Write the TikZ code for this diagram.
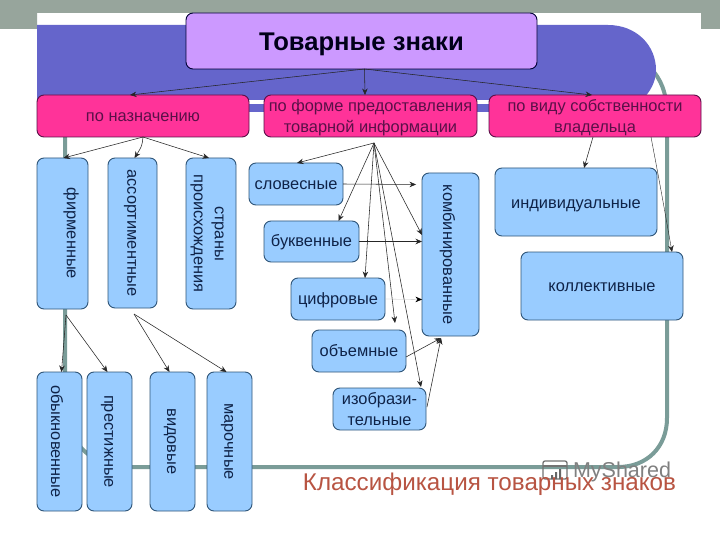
\documentclass[tikz,border=0pt]{standalone}
\usepackage{fontspec}
\usepackage{graphicx}
\setmainfont{Liberation Sans}
\usetikzlibrary{arrows.meta}
\definecolor{barc}{HTML}{97A59C}
\definecolor{bandc}{HTML}{6565CB}
\definecolor{framec}{HTML}{7A9C98}
\definecolor{titlec}{HTML}{CC99FF}
\definecolor{pinkc}{HTML}{FF3399}
\definecolor{pinkt}{HTML}{5A1048}
\definecolor{bluec}{HTML}{99CCFF}
\definecolor{bluet}{HTML}{0F2348}
\definecolor{edgec}{HTML}{2F5578}
\definecolor{capc}{HTML}{B85442}
\tikzset{
  boxbase/.style={draw,rounded corners=7pt,inner sep=0pt,outer sep=0pt,align=center,line width=0.9pt},
  titlebox/.style={boxbase,fill=titlec,draw=black!80!blue,text=black!90!blue,font=\fontsize{25.6}{30}\selectfont\bfseries},
  pinkbox/.style={boxbase,fill=pinkc,draw=pinkt,text=pinkt,font=\fontsize{16.4}{21}\selectfont},
  bluebox/.style={boxbase,fill=bluec,draw=edgec,text=bluet,font=\fontsize{16.4}{21}\selectfont},
  arr/.style={-{Stealth[length=6.5pt,width=5.5pt]},line width=0.55pt,black!85},
  thinarr/.style={-{Stealth[length=6.5pt,width=5.5pt,black]},line width=0.3pt,black!25},
}
\newcommand{\bx}[7]{%
  \pgfmathsetmacro{\bxw}{#5-#3}\pgfmathsetmacro{\bxh}{#6-#4}%
  \pgfmathsetmacro{\bxcx}{(#3+#5)/2}\pgfmathsetmacro{\bxcy}{(#4+#6)/2}%
  \node[#1,minimum width=\bxw pt,minimum height=\bxh pt] (#2) at (\bxcx,\bxcy) {#7};}
\newcommand{\vt}[2]{\hspace*{#1pt}\rotatebox{-90}{#2}}
\newcommand{\dn}[2]{\raisebox{0pt}[\dimexpr\height+#1pt*2\relax][\depth]{\begin{tabular}{@{}c@{}}#2\end{tabular}}}
\newcommand{\dnb}[1]{\raisebox{0pt}[\dimexpr\height+1pt\relax][\dimexpr\depth-3pt\relax]{\begin{tabular}{@{}c@{}}#1\end{tabular}}}
\begin{document}
\begin{tikzpicture}[x=1pt,y=-1pt]
\useasboundingbox (0,0) rectangle (720,540);
\fill[white] (0,0) rectangle (720,540);
% grey slide bar
\fill[barc] (0,0) -- (720,0) -- (720,29) -- (701,29) -- (701,13) -- (37,13) -- (37,29) -- (0,29) -- cycle;
% teal frame
\draw[framec,line width=4pt] (654,72) .. controls (664,85) and (667,98) .. (667,118) -- (667,418)
  .. controls (667,447) and (647,467) .. (618,467) -- (125,467)
  .. controls (92,467) and (65,440) .. (65,407) -- (65,130);
% blue band
\fill[bandc] (37,25) -- (608,25) .. controls (636,25) and (656,45) .. (656,70)
  .. controls (656,82) and (650,92) .. (642,100) -- (37,100) -- cycle;
\fill[bandc] (245,104) rectangle (268,112);
\fill[bandc] (473,104) rectangle (493,112);
% watermark
\draw[black!55,line width=1.3pt,rounded corners=2pt] (543,461) rectangle (567,479);
\draw[black!55,line width=1.3pt] (543,466) -- (567,466);
\fill[black!60] (551,475) rectangle (553,479) (555,472) rectangle (557,479) (559,469) rectangle (561,479);
\node[text=black!50,font=\fontsize{21.5}{26}\selectfont,inner sep=0pt] (wm) at (622,472) {MyShared};
% title and categories
\bx{titlebox}{t}{186}{13}{537}{69}{\dn{4}{Товарные знаки}}
\bx{pinkbox}{pa}{37}{95}{249}{137}{\dn{1}{по назначению}}
\bx{pinkbox}{pb}{264}{95}{477}{137}{\dnb{по форме предоставления\\товарной информации}}
\bx{pinkbox}{pc}{489}{95}{701}{137}{\dnb{по виду собственности\\владельца}}
% first column
\bx{bluebox}{fi}{37}{158}{88}{309}{\vt{17}{фирменные}}
\bx{bluebox}{as}{108}{158}{157}{308}{\vt{-5}{ассортиментные}}
\bx{bluebox}{st}{186}{158}{236}{309}{\vt{-5}{\begin{tabular}{@{}c@{}}страны\\происхождения\end{tabular}}}
% lower column
\bx{bluebox}{ob}{37}{372}{82}{511}{\vt{-5}{обыкновенные}}
\bx{bluebox}{pr}{87}{372}{132}{511}{\vt{-5}{престижные}}
\bx{bluebox}{vi}{150}{372}{195}{511}{\vt{-5}{видовые}}
\bx{bluebox}{ma}{207}{372}{252}{511}{\vt{-5}{марочные}}
% middle column
\bx{bluebox}{sl}{249}{163}{343}{205}{\dn{1}{словесные}}
\bx{bluebox}{bu}{264}{221}{359}{262}{\dn{1}{буквенные}}
\bx{bluebox}{ci}{291}{278}{385}{320}{\dn{1}{цифровые}}
\bx{bluebox}{oe}{312}{330}{406}{372}{\dn{1}{объемные}}
\bx{bluebox}{iz}{333}{388}{426}{430}{изобрази-\\тельные}
\bx{bluebox}{ko}{422}{173}{479}{336}{\vt{-6}{комбинированные}}
% right column
\bx{bluebox}{in}{495}{168}{657}{236}{\dn{2}{индивидуальные}}
\bx{bluebox}{kl}{521}{252}{683}{320}{\dn{1}{коллективные}}
% hubs
\coordinate (hb) at (374,143);
\coordinate (hf) at (66,315);
\coordinate (ha) at (134,314);
% connectors
\draw[arr] ([xshift=3pt]t.south) -- ([xshift=-13pt]pa.north);
\draw[arr] ([xshift=3pt]t.south) -- ([xshift=-5.5pt]pb.north);
\draw[arr] ([xshift=3pt]t.south) -- ([xshift=-3pt]pc.north);
\draw[arr] (pa.south) -- ([xshift=1pt]fi.north);
\draw[arr] (pa.south) .. controls (142,146) .. ([xshift=2pt]as.north);
\draw[arr] (pa.south) -- ([xshift=-2pt]st.north);
\draw[arr] (hb) -- ([xshift=1pt]sl.north);
\draw[arr] (hb) -- ([xshift=27pt]bu.north);
\draw[arr] (hb) -- ([xshift=27pt]ci.north);
\draw[arr] (hb) -- ([shift={(36pt,7pt)}]oe.north);
\draw[arr] (hb) -- ([xshift=-5pt,yshift=1pt]iz.north east);
\draw[arr] (hb) -- ([yshift=19.5pt]ko.west);
\draw[arr] (sl.east) -- ([xshift=-6pt,yshift=70pt]ko.west);
\draw[arr] (bu.east) -- ([yshift=13pt]ko.west);
\draw[thinarr] (ci.east) -- ([yshift=-45pt]ko.west);
\draw[arr] ([yshift=-6pt]oe.east) -- ([xshift=19pt,yshift=-2pt]ko.south west);
\draw[arr] ([xshift=1pt,yshift=2pt]iz.east) -- ([xshift=19pt,yshift=-2pt]ko.south west);
\draw[arr] ([xshift=-2pt]pc.south) -- ([xshift=8pt]in.north);
\draw[arr,line width=0.4pt] ([xshift=56pt]pc.south) .. controls (661,190) .. ([xshift=70pt]kl.north);
\draw[arr] (hf) -- ([xshift=2pt]ob.north);
\draw[arr] (hf) -- ([xshift=-2pt]pr.north);
\draw[arr] (ha) -- ([xshift=-3pt]vi.north);
\draw[arr] (ha) -- ([xshift=-3pt]ma.north);
% caption
\node[text=capc,font=\fontsize{24.2}{28}\selectfont,inner sep=0pt] (cap) at (489.5,484) {Классификация товарных знаков};
\end{tikzpicture}
\end{document}
